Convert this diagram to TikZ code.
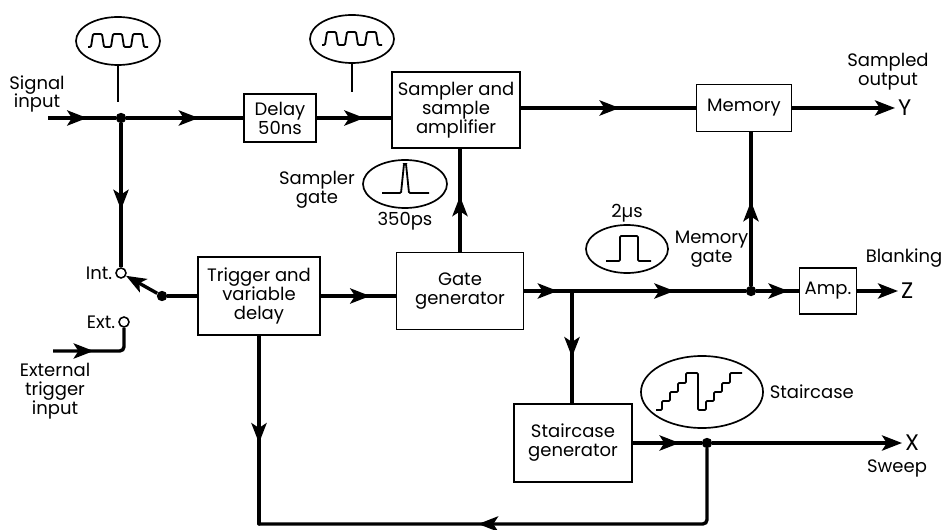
\documentclass[tikz,border=0pt]{standalone}
\usepackage{fontspec}
\setmainfont{Poppins}
\usetikzlibrary{arrows.meta,positioning,shapes.geometric,decorations.markings}

\tikzset{>={Stealth[length=5mm,width=3.8mm,inset=1.2mm]}}

\begin{document}
\begin{tikzpicture}[
    x=0.025cm, y=-0.025cm,
    every node/.style={font=\fontsize{12.8}{13.5}\selectfont},
    blk/.style={draw, line width=1.3pt, align=center, inner sep=1pt},
    probe/.style={draw, ellipse, line width=1.2pt, inner sep=0pt, minimum width=2.1cm, minimum height=1.2cm},
    wave/.style={line width=1.3pt, rounded corners=0.8pt},
    flow/.style={line width=2.4pt},
    marr/.style={postaction={decorate}, decoration={markings, mark=at position #1 with {\arrow{>}}}},
    jdot/.style={circle, fill, inner sep=0pt, minimum size=2.6mm},
    contact/.style={circle, draw, fill=white, line width=1.1pt, inner sep=0pt, minimum size=2.5mm},
    probeline/.style={line width=1pt},
    lbl/.style={align=center, inner sep=1pt},
    axis/.style={font=\fontsize{16}{16}\selectfont, inner sep=0pt}
]
\useasboundingbox (0,0) rectangle (944,530);

% top row
\coordinate (sigin) at (48,118);
\node[lbl] (siglbl) at (37,94) {Signal\\input};
\node[jdot] (jsig) at (121,118) {};
\node[blk, minimum width=1.8cm, minimum height=1.2cm] (delay) at (280,118) {Delay\\50ns};
\node[blk, minimum width=3.2cm, minimum height=1.9cm] (sampler) at (456,110) {Sampler and\\sample\\amplifier};
\node[blk, minimum width=2.375cm, minimum height=1.175cm] (memory) at (744,108) {Memory};
\coordinate (yout) at (895,108);
\node[axis, right=2pt of yout] (ylbl) {Y};
\node[lbl] (sampled) at (888,72) {Sampled\\output};

% probe waveforms on the signal path
\node[probe] (w1) at (118,41) {};
\node[probe] (w2) at (352,39) {};
\coordinate (w1end) at (118,102);
\coordinate (w2end) at (352,92);
\foreach \w in {w1,w2} {
  \begin{scope}[shift={(\w.center)}]
    \draw[wave] (-30,6) -- (-27,6) -- (-25,-7) -- (-16,-7) -- (-14,6) -- (-7,6) -- (-5,-7) -- (4,-7)
      -- (6,6) -- (13,6) -- (15,-7) -- (24,-7) -- (26,6) -- (30,6);
  \end{scope}
}

% trigger switch
\node[contact] (intc) at (121,273) {};
\node[lbl, left=1pt of intc] (intlbl) {Int.};
\node[contact] (extc) at (124,322) {};
\node[lbl, left=1pt of extc] (extlbl) {Ext.};
\node[jdot] (pivot) at (162,296) {};
\coordinate (extin) at (53,351);
\coordinate (extbend) at (124,351);
\node[lbl] (extxt) at (55,391) {External\\trigger\\input};

% middle row
\node[blk, minimum width=3.05cm, minimum height=1.95cm] (trig) at (259,296) {Trigger and\\variable\\delay};
\node[blk, minimum width=3.175cm, minimum height=1.925cm] (gate) at (460,291) {Gate\\generator};
\node[probe] (wsg) at (405,184) {};
\node[lbl, left=4pt of wsg, yshift=-4pt] (sglbl) {Sampler\\gate};
\node[lbl, below=1pt of wsg] (sgtime) {350ps};
\coordinate (branch) at (572,291);
\node[jdot] (mdot) at (751,291) {};
\node[blk, minimum width=1.425cm, minimum height=1.15cm] (amp) at (828,291) {Amp.};
\coordinate (zout) at (898,291);
\node[axis, right=2pt of zout] (zlbl) {Z};
\node[lbl] (blank) at (904,258) {Blanking};
\node[probe, minimum width=2.05cm] (wmg) at (627,249) {};
\node[lbl, above=0pt of wmg] (mgtime) {2µs};
\node[lbl, right=3pt of wmg] (mglbl) {Memory\\gate};

% bottom row
\node[blk, minimum width=2.95cm, minimum height=1.95cm] (stair) at (573,443) {Staircase\\generator};
\node[jdot] (sdot) at (707,443) {};
\coordinate (xout) at (902,443);
\node[axis, right=2pt of xout] (xlbl) {X};
\node[lbl] (sweep) at (897,468) {Sweep};
\node[probe, minimum width=3.05cm, minimum height=1.8cm] (wst) at (702,392) {};
\node[lbl, right=3pt of wst] (stlbl) {Staircase};
\coordinate (loopr) at (707,524);
\coordinate (loopl) at (259,524);

% pulse shapes
\begin{scope}[shift={(wsg.center)}]
  \draw[wave] (-23,9) -- (-4,9) -- (-1,-20) -- (1,-20) -- (4,9) -- (24,9);
\end{scope}
\begin{scope}[shift={(wmg.center)}]
  \draw[wave] (-21,12) -- (-7,12) -- (-7,-13) -- (11,-13) -- (11,12) -- (24,12);
\end{scope}
\begin{scope}[shift={(wst.center)}]
  \draw[wave] (-46,18) -- (-40,18) -- (-40,9) -- (-32,9) -- (-32,0) -- (-24,0) -- (-24,-9) -- (-16,-9)
    -- (-16,-19) -- (-4,-19) -- (-4,18) -- (4,18) -- (4,9) -- (12,9) -- (12,0) -- (20,0) -- (20,-9)
    -- (28,-9) -- (28,-19) -- (40,-19);
\end{scope}

% connectors
\draw[probeline] (w1.south) -- (w1end);
\draw[probeline] (w2.south) -- (w2end);
\draw[flow, marr=0.58] (sigin) -- (jsig);
\draw[flow, marr=0.62] (jsig) -- (delay);
\draw[flow, marr=0.64] (delay) -- (delay -| sampler.west);
\draw[flow, marr=0.565] (sampler.east |- memory) -- (memory);
\draw[flow, ->] (memory) -- (yout);
\draw[flow, marr=0.6] (jsig) -- (intc);
\draw[flow, ->] (pivot) -- (intc);
\draw[flow] (pivot) -- (trig);
\draw[flow, marr=0.44, rounded corners=3pt] (extin) -- (extbend) -- (extc);
\draw[flow, marr=0.66] (trig) -- (trig -| gate.west);
\draw[flow, marr=0.54] (gate) -- (gate |- sampler.south);
\draw[flow, marr=0.7] (gate) -- (branch);
\draw[flow, marr=0.59] (branch) -- (mdot);
\draw[flow, marr=0.76] (mdot) -- (amp);
\draw[flow, ->] (amp) -- (zout);
\draw[flow, marr=0.55] (mdot) -- (mdot |- memory.south);
\draw[flow, marr=0.59] (branch) -- (branch |- stair.north);
\draw[flow, marr=0.68] (stair) -- (sdot);
\draw[flow, ->] (sdot) -- (xout);
\draw[flow, line cap=round, marr=0.58, rounded corners=3pt] (sdot) -- (loopr) -- (loopl);
\draw[flow, line cap=round, marr=0.57] (trig) -- (loopl);
\end{tikzpicture}
\end{document}
